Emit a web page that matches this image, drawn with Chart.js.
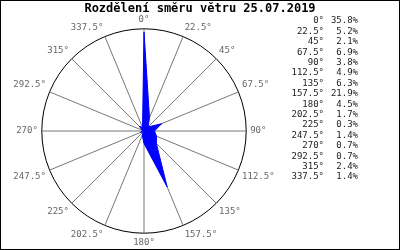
<!DOCTYPE html>
<html>
<head>
<meta charset="utf-8">
<script src="https://cdn.jsdelivr.net/npm/chart.js@4"></script>
<style>
  html, body { margin: 0; padding: 0; background: #fff; }
  #wrap { width: 400px; height: 250px; }
</style>
</head>
<body>
<div id="wrap"><canvas id="windChart" width="400" height="250"></canvas></div>
<script>
// wind direction share, 25.07.2019
const directions = ['0°', '22.5°', '45°', '67.5°', '90°', '112.5°', '135°', '157.5°',
  '180°', '202.5°', '225°', '247.5°', '270°', '292.5°', '315°', '337.5°'];
const shares = [35.8, 5.2, 2.1, 6.9, 3.8, 4.9, 6.3, 21.9, 4.5, 1.7, 0.3, 1.4, 0.7, 0.7, 2.4, 1.4];
const title = 'Rozdělení směru větru 25.07.2019';
const scaleMax = 37;

const mono = 'DejaVu Sans Mono';

// frame, title across the whole picture, table of percentages on the right
const sideTable = {
  id: 'sideTable',
  afterDraw(chart) {
    const ctx = chart.ctx;
    ctx.save();
    ctx.strokeStyle = '#000';
    ctx.lineWidth = 1;
    ctx.strokeRect(0.5, 0.5, chart.width - 1, chart.height - 1);

    ctx.fillStyle = '#000';
    ctx.textBaseline = 'middle';
    ctx.textAlign = 'center';
    ctx.font = 'bold 12px "' + mono + '"';
    ctx.fillText(title, chart.width / 2, 9);

    ctx.font = '9px "' + mono + '"';
    ctx.fillStyle = '#222';
    ctx.textAlign = 'right';
    directions.forEach((d, i) => {
      const y = 21 + i * 10.4;
      ctx.fillText(d, 324, y);
      ctx.fillText(shares[i].toFixed(1) + '%', 358, y);
    });
    ctx.restore();
  }
};

new Chart(document.getElementById('windChart'), {
  type: 'radar',
  data: {
    labels: directions,
    datasets: [{
      data: shares,
      fill: true,
      backgroundColor: 'rgb(0,0,255)',
      borderColor: 'rgb(0,0,255)',
      borderWidth: 1,
      pointRadius: 0,
      tension: 0
    }]
  },
  options: {
    responsive: false,
    animation: false,
    layout: { padding: { left: 6, right: 116, top: 15, bottom: 1 } },
    plugins: {
      legend: { display: false },
      tooltip: { enabled: false },
      title: { display: false }
    },
    scales: {
      r: {
        min: 0,
        max: scaleMax,
        ticks: { display: false, stepSize: scaleMax },
        grid: { color: '#000', lineWidth: 1, circular: true },
        angleLines: { color: '#777', lineWidth: 1 },
        pointLabels: {
          color: '#666',
          padding: 4,
          font: { family: mono, size: 9 }
        }
      }
    }
  },
  plugins: [sideTable]
});
</script>
</body>
</html>
